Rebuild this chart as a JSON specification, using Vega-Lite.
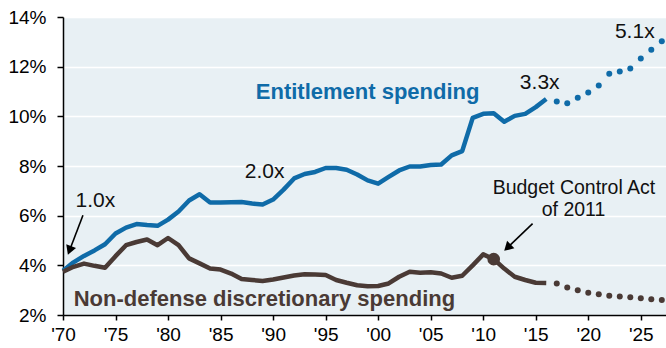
{
  "$schema": "https://vega.github.io/schema/vega-lite/v6.json",
  "width": 603,
  "height": 298,
  "autosize": {"type": "none"},
  "padding": {"left": 63, "top": 17, "right": 0, "bottom": 33},
  "background": "white",
  "config": {
    "view": {"fill": "#E8F0F4", "stroke": null},
    "font": "Liberation Sans"
  },
  "datasets": {
    "series": [
      {"year": 1970, "value": 3.78, "series": "Entitlement", "kind": "actual"},
      {"year": 1971, "value": 4.12, "series": "Entitlement", "kind": "actual"},
      {"year": 1972, "value": 4.38, "series": "Entitlement", "kind": "actual"},
      {"year": 1973, "value": 4.6, "series": "Entitlement", "kind": "actual"},
      {"year": 1974, "value": 4.85, "series": "Entitlement", "kind": "actual"},
      {"year": 1975, "value": 5.28, "series": "Entitlement", "kind": "actual"},
      {"year": 1976, "value": 5.52, "series": "Entitlement", "kind": "actual"},
      {"year": 1977, "value": 5.66, "series": "Entitlement", "kind": "actual"},
      {"year": 1978, "value": 5.62, "series": "Entitlement", "kind": "actual"},
      {"year": 1979, "value": 5.59, "series": "Entitlement", "kind": "actual"},
      {"year": 1980, "value": 5.84, "series": "Entitlement", "kind": "actual"},
      {"year": 1981, "value": 6.17, "series": "Entitlement", "kind": "actual"},
      {"year": 1982, "value": 6.61, "series": "Entitlement", "kind": "actual"},
      {"year": 1983, "value": 6.86, "series": "Entitlement", "kind": "actual"},
      {"year": 1984, "value": 6.53, "series": "Entitlement", "kind": "actual"},
      {"year": 1985, "value": 6.53, "series": "Entitlement", "kind": "actual"},
      {"year": 1986, "value": 6.54, "series": "Entitlement", "kind": "actual"},
      {"year": 1987, "value": 6.55, "series": "Entitlement", "kind": "actual"},
      {"year": 1988, "value": 6.49, "series": "Entitlement", "kind": "actual"},
      {"year": 1989, "value": 6.45, "series": "Entitlement", "kind": "actual"},
      {"year": 1990, "value": 6.65, "series": "Entitlement", "kind": "actual"},
      {"year": 1991, "value": 7.05, "series": "Entitlement", "kind": "actual"},
      {"year": 1992, "value": 7.5, "series": "Entitlement", "kind": "actual"},
      {"year": 1993, "value": 7.68, "series": "Entitlement", "kind": "actual"},
      {"year": 1994, "value": 7.76, "series": "Entitlement", "kind": "actual"},
      {"year": 1995, "value": 7.92, "series": "Entitlement", "kind": "actual"},
      {"year": 1996, "value": 7.92, "series": "Entitlement", "kind": "actual"},
      {"year": 1997, "value": 7.85, "series": "Entitlement", "kind": "actual"},
      {"year": 1998, "value": 7.66, "series": "Entitlement", "kind": "actual"},
      {"year": 1999, "value": 7.42, "series": "Entitlement", "kind": "actual"},
      {"year": 2000, "value": 7.29, "series": "Entitlement", "kind": "actual"},
      {"year": 2001, "value": 7.56, "series": "Entitlement", "kind": "actual"},
      {"year": 2002, "value": 7.82, "series": "Entitlement", "kind": "actual"},
      {"year": 2003, "value": 7.98, "series": "Entitlement", "kind": "actual"},
      {"year": 2004, "value": 7.98, "series": "Entitlement", "kind": "actual"},
      {"year": 2005, "value": 8.04, "series": "Entitlement", "kind": "actual"},
      {"year": 2006, "value": 8.06, "series": "Entitlement", "kind": "actual"},
      {"year": 2007, "value": 8.43, "series": "Entitlement", "kind": "actual"},
      {"year": 2008, "value": 8.6, "series": "Entitlement", "kind": "actual"},
      {"year": 2009, "value": 9.94, "series": "Entitlement", "kind": "actual"},
      {"year": 2010, "value": 10.1, "series": "Entitlement", "kind": "actual"},
      {"year": 2011, "value": 10.12, "series": "Entitlement", "kind": "actual"},
      {"year": 2012, "value": 9.78, "series": "Entitlement", "kind": "actual"},
      {"year": 2013, "value": 10.02, "series": "Entitlement", "kind": "actual"},
      {"year": 2014, "value": 10.1, "series": "Entitlement", "kind": "actual"},
      {"year": 2015, "value": 10.37, "series": "Entitlement", "kind": "actual"},
      {"year": 2016, "value": 10.7, "series": "Entitlement", "kind": "actual"},
      {"year": 2017, "value": 10.6, "series": "Entitlement", "kind": "projected"},
      {"year": 2018, "value": 10.53, "series": "Entitlement", "kind": "projected"},
      {"year": 2019, "value": 10.75, "series": "Entitlement", "kind": "projected"},
      {"year": 2020, "value": 10.96, "series": "Entitlement", "kind": "projected"},
      {"year": 2021, "value": 11.24, "series": "Entitlement", "kind": "projected"},
      {"year": 2022, "value": 11.71, "series": "Entitlement", "kind": "projected"},
      {"year": 2023, "value": 11.81, "series": "Entitlement", "kind": "projected"},
      {"year": 2024, "value": 11.93, "series": "Entitlement", "kind": "projected"},
      {"year": 2025, "value": 12.33, "series": "Entitlement", "kind": "projected"},
      {"year": 2026, "value": 12.68, "series": "Entitlement", "kind": "projected"},
      {"year": 2027, "value": 13.02, "series": "Entitlement", "kind": "projected"},
      {"year": 1970, "value": 3.74, "series": "Non-defense", "kind": "actual"},
      {"year": 1971, "value": 3.94, "series": "Non-defense", "kind": "actual"},
      {"year": 1972, "value": 4.07, "series": "Non-defense", "kind": "actual"},
      {"year": 1973, "value": 3.98, "series": "Non-defense", "kind": "actual"},
      {"year": 1974, "value": 3.9, "series": "Non-defense", "kind": "actual"},
      {"year": 1975, "value": 4.37, "series": "Non-defense", "kind": "actual"},
      {"year": 1976, "value": 4.81, "series": "Non-defense", "kind": "actual"},
      {"year": 1977, "value": 4.94, "series": "Non-defense", "kind": "actual"},
      {"year": 1978, "value": 5.04, "series": "Non-defense", "kind": "actual"},
      {"year": 1979, "value": 4.81, "series": "Non-defense", "kind": "actual"},
      {"year": 1980, "value": 5.1, "series": "Non-defense", "kind": "actual"},
      {"year": 1981, "value": 4.81, "series": "Non-defense", "kind": "actual"},
      {"year": 1982, "value": 4.28, "series": "Non-defense", "kind": "actual"},
      {"year": 1983, "value": 4.08, "series": "Non-defense", "kind": "actual"},
      {"year": 1984, "value": 3.87, "series": "Non-defense", "kind": "actual"},
      {"year": 1985, "value": 3.83, "series": "Non-defense", "kind": "actual"},
      {"year": 1986, "value": 3.67, "series": "Non-defense", "kind": "actual"},
      {"year": 1987, "value": 3.45, "series": "Non-defense", "kind": "actual"},
      {"year": 1988, "value": 3.41, "series": "Non-defense", "kind": "actual"},
      {"year": 1989, "value": 3.37, "series": "Non-defense", "kind": "actual"},
      {"year": 1990, "value": 3.43, "series": "Non-defense", "kind": "actual"},
      {"year": 1991, "value": 3.51, "series": "Non-defense", "kind": "actual"},
      {"year": 1992, "value": 3.59, "series": "Non-defense", "kind": "actual"},
      {"year": 1993, "value": 3.64, "series": "Non-defense", "kind": "actual"},
      {"year": 1994, "value": 3.63, "series": "Non-defense", "kind": "actual"},
      {"year": 1995, "value": 3.61, "series": "Non-defense", "kind": "actual"},
      {"year": 1996, "value": 3.41, "series": "Non-defense", "kind": "actual"},
      {"year": 1997, "value": 3.3, "series": "Non-defense", "kind": "actual"},
      {"year": 1998, "value": 3.2, "series": "Non-defense", "kind": "actual"},
      {"year": 1999, "value": 3.16, "series": "Non-defense", "kind": "actual"},
      {"year": 2000, "value": 3.17, "series": "Non-defense", "kind": "actual"},
      {"year": 2001, "value": 3.27, "series": "Non-defense", "kind": "actual"},
      {"year": 2002, "value": 3.54, "series": "Non-defense", "kind": "actual"},
      {"year": 2003, "value": 3.74, "series": "Non-defense", "kind": "actual"},
      {"year": 2004, "value": 3.7, "series": "Non-defense", "kind": "actual"},
      {"year": 2005, "value": 3.72, "series": "Non-defense", "kind": "actual"},
      {"year": 2006, "value": 3.67, "series": "Non-defense", "kind": "actual"},
      {"year": 2007, "value": 3.5, "series": "Non-defense", "kind": "actual"},
      {"year": 2008, "value": 3.58, "series": "Non-defense", "kind": "actual"},
      {"year": 2009, "value": 4.0, "series": "Non-defense", "kind": "actual"},
      {"year": 2010, "value": 4.44, "series": "Non-defense", "kind": "actual"},
      {"year": 2011, "value": 4.25, "series": "Non-defense", "kind": "actual"},
      {"year": 2012, "value": 3.87, "series": "Non-defense", "kind": "actual"},
      {"year": 2013, "value": 3.54, "series": "Non-defense", "kind": "actual"},
      {"year": 2014, "value": 3.41, "series": "Non-defense", "kind": "actual"},
      {"year": 2015, "value": 3.3, "series": "Non-defense", "kind": "actual"},
      {"year": 2016, "value": 3.29, "series": "Non-defense", "kind": "actual"},
      {"year": 2017, "value": 3.27, "series": "Non-defense", "kind": "projected"},
      {"year": 2018, "value": 3.11, "series": "Non-defense", "kind": "projected"},
      {"year": 2019, "value": 3.0, "series": "Non-defense", "kind": "projected"},
      {"year": 2020, "value": 2.9, "series": "Non-defense", "kind": "projected"},
      {"year": 2021, "value": 2.84, "series": "Non-defense", "kind": "projected"},
      {"year": 2022, "value": 2.78, "series": "Non-defense", "kind": "projected"},
      {"year": 2023, "value": 2.74, "series": "Non-defense", "kind": "projected"},
      {"year": 2024, "value": 2.71, "series": "Non-defense", "kind": "projected"},
      {"year": 2025, "value": 2.67, "series": "Non-defense", "kind": "projected"},
      {"year": 2026, "value": 2.63, "series": "Non-defense", "kind": "projected"},
      {"year": 2027, "value": 2.6, "series": "Non-defense", "kind": "projected"}
    ],
    "multiples": [
      {"year": 1971.2, "value": 6.34, "label": "1.0x"},
      {"year": 1987.3, "value": 7.5, "label": "2.0x"},
      {"year": 2013.49, "value": 11.1, "label": "3.3x"},
      {"year": 2022.54, "value": 13.15, "label": "5.1x"}
    ],
    "bca": [
      {"year": 2018.64, "value": 6.89, "label": "Budget Control Act"},
      {"year": 2018.6, "value": 5.99, "label": "of 2011"}
    ],
    "arrow1": [{"year": 1971.9, "value": 6.02, "year2": 1970.62, "value2": 4.6}],
    "arrow2": [{"year": 2014.7, "value": 5.68, "year2": 2012.31, "value2": 4.71}],
    "marker": [{"year": 2011, "value": 4.25}],
    "entLabel": [{"year": 1988.35, "value": 10.7, "label": "Entitlement spending"}],
    "ndLabel": [{"year": 1971.02, "value": 2.36, "label": "Non-defense discretionary spending"}]
  },
  "encoding": {
    "x": {
      "field": "year",
      "type": "quantitative",
      "scale": {"domain": [1970, 2027.4], "nice": false, "zero": false},
      "axis": {
        "values": [1970, 1975, 1980, 1985, 1990, 1995, 2000, 2005, 2010, 2015, 2020, 2025],
        "format": "d",
        "labelExpr": "\"'\" + substring(datum.label, 2)",
        "grid": false,
        "title": null,
        "domainColor": "#000000",
        "domainWidth": 1.5,
        "tickColor": "#000000",
        "tickWidth": 1.5,
        "tickSize": 5,
        "labelFontSize": 19,
        "labelColor": "#000000",
        "labelPadding": 5,
        "labelFlush": false,
        "labelOverlap": false
      }
    },
    "y": {
      "field": "value",
      "type": "quantitative",
      "scale": {"domain": [2, 14], "nice": false, "zero": false},
      "axis": {
        "values": [2, 4, 6, 8, 10, 12, 14],
        "labelExpr": "datum.value + '%'",
        "grid": true,
        "gridColor": "#FFFFFF",
        "gridWidth": 1.5,
        "title": null,
        "domainColor": "#000000",
        "domainWidth": 1.5,
        "tickColor": "#000000",
        "tickWidth": 1.5,
        "tickSize": 6,
        "labelFontSize": 19,
        "labelColor": "#000000",
        "labelPadding": 11,
        "labelFlush": false,
        "labelOverlap": false
      }
    }
  },
  "layer": [
    {
      "data": {"name": "series"},
      "transform": [{"filter": "datum.kind == 'actual'"}],
      "mark": {"type": "line", "strokeWidth": 4.5, "strokeJoin": "round"},
      "encoding": {
        "color": {
          "field": "series",
          "type": "nominal",
          "scale": {"domain": ["Entitlement", "Non-defense"], "range": ["#0F6BA8", "#4A3A35"]},
          "legend": null
        }
      }
    },
    {
      "data": {"name": "series"},
      "transform": [{"filter": "datum.kind == 'projected'"}],
      "mark": {"type": "point", "filled": true, "size": 36, "opacity": 1, "shape": "circle"},
      "encoding": {
        "color": {
          "field": "series",
          "type": "nominal",
          "scale": {"domain": ["Entitlement", "Non-defense"], "range": ["#0F6BA8", "#4A3A35"]},
          "legend": null
        }
      }
    },
    {
      "data": {"name": "marker"},
      "mark": {"type": "point", "filled": true, "size": 160, "opacity": 1, "shape": "circle", "color": "#4A3A35"}
    },
    {
      "data": {"name": "arrow1"},
      "mark": {"type": "rule", "color": "#000000", "strokeWidth": 1.6},
      "encoding": {"x2": {"field": "year2"}, "y2": {"field": "value2"}}
    },
    {
      "data": {"name": "arrow1"},
      "mark": {"type": "point", "filled": true, "shape": "triangle-up", "size": 110, "angle": 201, "color": "#000000", "opacity": 1},
      "encoding": {"x": {"field": "year2", "type": "quantitative"}, "y": {"field": "value2", "type": "quantitative"}}
    },
    {
      "data": {"name": "arrow2"},
      "mark": {"type": "rule", "color": "#000000", "strokeWidth": 1.6},
      "encoding": {"x2": {"field": "year2"}, "y2": {"field": "value2"}}
    },
    {
      "data": {"name": "arrow2"},
      "mark": {"type": "point", "filled": true, "shape": "triangle-up", "size": 110, "angle": 226, "color": "#000000", "opacity": 1},
      "encoding": {"x": {"field": "year2", "type": "quantitative"}, "y": {"field": "value2", "type": "quantitative"}}
    },
    {
      "data": {"name": "multiples"},
      "mark": {"type": "text", "align": "left", "baseline": "alphabetic", "fontSize": 21, "color": "#111111"},
      "encoding": {"text": {"field": "label"}}
    },
    {
      "data": {"name": "bca"},
      "mark": {"type": "text", "align": "center", "baseline": "alphabetic", "fontSize": 19.5, "color": "#111111"},
      "encoding": {"text": {"field": "label"}}
    },
    {
      "data": {"name": "entLabel"},
      "mark": {"type": "text", "align": "left", "baseline": "alphabetic", "fontSize": 22, "fontWeight": "bold", "color": "#0F6BA8"},
      "encoding": {"text": {"field": "label"}}
    },
    {
      "data": {"name": "ndLabel"},
      "mark": {"type": "text", "align": "left", "baseline": "alphabetic", "fontSize": 22, "fontWeight": "bold", "color": "#4A3A35"},
      "encoding": {"text": {"field": "label"}}
    }
  ]
}
